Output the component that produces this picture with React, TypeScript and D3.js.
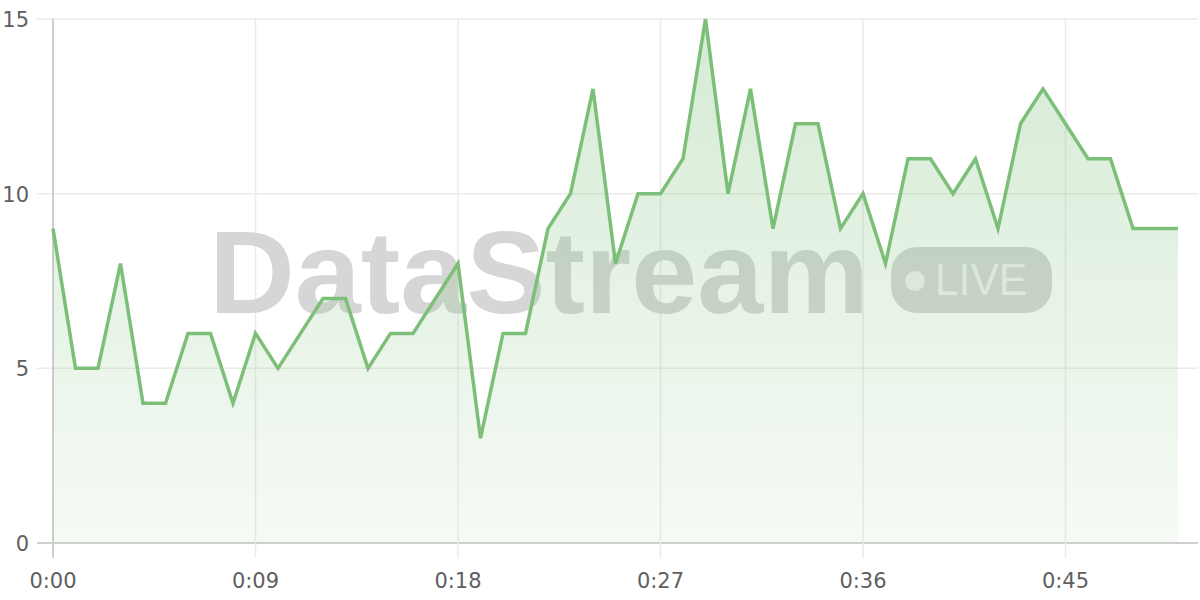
import React from "react";
import * as d3 from "d3";

const seconds = d3.range(0, 51);
const values = [9, 5, 5, 8, 4, 4, 6, 6, 4, 6, 5, 6, 7, 7, 5, 6, 6, 7, 8, 3, 6, 6, 9, 10, 13, 8, 10, 10, 11, 15, 10, 13, 9, 12, 12, 9, 10, 8, 11, 11, 10, 11, 9, 12, 13, 12, 11, 11, 9, 9, 9];
const xTicks = [0, 9, 18, 27, 36, 45];
const yTicks = [0, 5, 10, 15];
const watermarkTitle = "DataStream";
const watermarkBadge = "LIVE";

const W = 1200;
const H = 600;
const left = 53;
const right = 1178;
const plotRight = 1198;
const top = 19;
const bottom = 543;
const FONT = "'Liberation Sans', Arial, Helvetica, sans-serif";
const LABEL_FONT = "'DejaVu Sans', Verdana, sans-serif";

const fmt = (s: number) => `${Math.floor(s / 60)}:${String(s % 60).padStart(2, "0")}`;

export default function App() {
  const x = d3.scaleLinear().domain([0, 50]).range([left, right]);
  const y = d3.scaleLinear().domain([0, 15]).range([bottom, top]);
  const data = seconds.map((s, i) => ({ s, v: values[i] }));
  const line = d3.line<{ s: number; v: number }>().x((d) => x(d.s)).y((d) => y(d.v));
  const area = d3
    .area<{ s: number; v: number }>()
    .x((d) => x(d.s))
    .y0(y(0))
    .y1((d) => y(d.v));

  return (
    <svg width={W} height={H} style={{ position: "absolute", left: 0, top: 0, background: "#fff" }}>
      <defs>
        <linearGradient id="fillGrad" x1="0" y1={top} x2="0" y2={bottom} gradientUnits="userSpaceOnUse">
          <stop offset="0%" stopColor="#7cbf78" stopOpacity={0.32} />
          <stop offset="100%" stopColor="#7cbf78" stopOpacity={0.07} />
        </linearGradient>
      </defs>
      {/* grid */}
      {yTicks.map((t) => (
        <line key={"gy" + t} x1={37} x2={plotRight} y1={y(t)} y2={y(t)} stroke={t === 0 ? "#cfcfcf" : "#ebebeb"} strokeWidth={t === 0 ? 2 : 1.5} />
      ))}
      {xTicks.map((t) => (
        <line key={"gx" + t} x1={x(t)} x2={x(t)} y1={top} y2={558} stroke={t === 0 ? "#cfcfcf" : "#ebebeb"} strokeWidth={t === 0 ? 2 : 1.5} />
      ))}
      {/* watermark */}
      <g>
        <text x={209} y={313} fontFamily={FONT} fontWeight={700} fontSize={116} fill="#d6d6d6" textLength={660} lengthAdjust="spacingAndGlyphs">
          {watermarkTitle}
        </text>
        <rect x={891} y={247} width={161} height={66} rx={26} fill="#d6d6d6" />
        <circle cx={915} cy={281} r={10} fill="#f2f2f2" />
        <text x={935} y={295} fontFamily={FONT} fontSize={44} fill="#f2f2f2" textLength={92} lengthAdjust="spacingAndGlyphs">
          {watermarkBadge}
        </text>
      </g>
      <path d={area(data) || ""} fill="url(#fillGrad)" />
      <path d={line(data) || ""} fill="none" stroke="#7cbf78" strokeWidth={3.5} strokeLinejoin="miter" />
      {/* axis labels */}
      {yTicks.map((t) => (
        <text key={"ly" + t} x={29} y={y(t) + 8} textAnchor="end" fontFamily={LABEL_FONT} fontSize={21} fill="#5f5f5f">
          {t}
        </text>
      ))}
      {xTicks.map((t) => (
        <text key={"lx" + t} x={x(t)} y={588} textAnchor="middle" fontFamily={LABEL_FONT} fontSize={21} fill="#5f5f5f">
          {fmt(t)}
        </text>
      ))}
    </svg>
  );
}
